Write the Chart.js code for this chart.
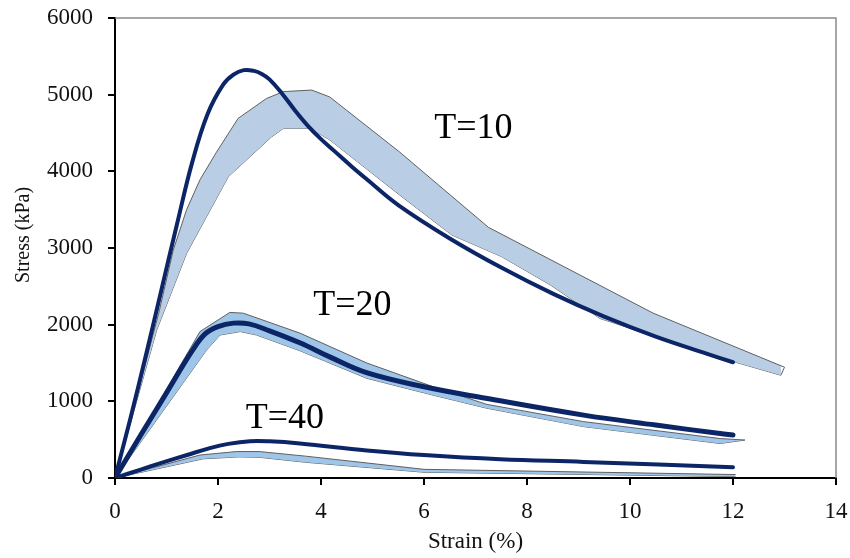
<!DOCTYPE html>
<html>
<head>
<meta charset="utf-8">
<script src="https://cdn.jsdelivr.net/npm/chart.js@4.4.1/dist/chart.umd.min.js"></script>
<style>
  html, body { margin: 0; padding: 0; background: #ffffff; }
  #wrap { width: 850px; height: 558px; }
</style>
</head>
<body>
<div id="wrap"><canvas id="c" width="850" height="558"></canvas></div>
<script>
// ---------- data ----------
// T=10 model curve
const strainT10Model = [0, 0.3, 0.6, 0.9, 1.2, 1.5, 1.8, 2.1, 2.3, 2.5, 2.7, 2.85, 3.0, 3.25, 3.5, 3.75, 4.0, 4.25, 4.6, 4.9, 5.5, 6.5, 7.5, 8.5, 9.5, 10.5, 11.5, 12];
const stressT10Model = [0, 780, 1600, 2450, 3300, 4120, 4750, 5130, 5260, 5320, 5310, 5270, 5200, 5010, 4790, 4590, 4420, 4270, 4060, 3890, 3560, 3125, 2745, 2405, 2105, 1845, 1620, 1510];
// T=10 experimental band
const strainT10Upper = [0, 0.85, 1.13, 1.39, 1.65, 1.97, 2.39, 2.94, 3.27, 3.82, 4.17, 5.53, 7.25, 10.45, 13.0];
const stressT10Upper = [0, 2150, 2970, 3500, 3890, 4250, 4690, 4950, 5040, 5060, 4970, 4250, 3270, 2150, 1445];
const strainT10Lower = [0, 0.81, 1.39, 2.2, 3.04, 3.27, 3.79, 4.17, 5.53, 6.54, 7.5, 8.45, 9.42, 12.0, 12.93];
const stressT10Lower = [0, 1930, 2930, 3930, 4450, 4560, 4560, 4410, 3690, 3170, 2890, 2520, 2080, 1520, 1340];
const strainT10Cap = [13.0, 12.93];
const stressT10Cap = [1445, 1340];

// T=20 model curve
const strainT20Model = [0, 0.5, 1.0, 1.5, 1.75, 2.0, 2.3, 2.6, 3.0, 3.6, 4.2, 4.9, 6.0, 7.2, 9.1, 10.5, 11.75, 12];
const stressT20Model = [0, 560, 1110, 1660, 1880, 1975, 2020, 2010, 1920, 1760, 1570, 1370, 1190, 1040, 820, 690, 580, 560];
// T=20 experimental band
const strainT20Upper = [0, 1.65, 2.23, 2.49, 3.59, 4.89, 6.18, 7.22, 9.1, 11.75, 12.23];
const stressT20Upper = [0, 1910, 2160, 2150, 1890, 1500, 1190, 960, 735, 515, 495];
const strainT20Lower = [0, 1.78, 2.04, 2.43, 2.75, 3.59, 4.89, 6.18, 7.22, 9.1, 11.75, 12.23];
const stressT20Lower = [0, 1670, 1865, 1910, 1865, 1660, 1300, 1080, 910, 670, 450, 495];

// T=40 model curve
const strainT40Model = [0, 0.5, 0.87, 1.4, 1.84, 2.2, 2.62, 3.0, 3.59, 4.89, 6.0, 7.48, 9.1, 12];
const stressT40Model = [0, 110, 190, 300, 390, 445, 480, 478, 450, 360, 300, 245, 210, 140];
// T=40 experimental band
const strainT40Upper = [0, 1.65, 2.36, 2.8, 3.7, 6.0, 12.05];
const stressT40Upper = [0, 300, 345, 345, 285, 113, 45];
const strainT40Lower = [0, 1.71, 2.4, 2.8, 3.7, 6.0, 12.05];
const stressT40Lower = [0, 250, 275, 270, 205, 75, 18];

// axis ticks
const xTicks = [0, 2, 4, 6, 8, 10, 12, 14];
const yTicks = [0, 1000, 2000, 3000, 4000, 5000, 6000];

// curve labels
const labelTexts = ['T=10', 'T=20', 'T=40'];
const labelStrain = [6.96, 4.61, 3.30];
const labelStress = [4435, 2126, 652];
const yTitleText = 'Stress (kPa)';

// ---------- helpers ----------
function pts(xs, ys) { return xs.map((x, i) => ({ x: x, y: ys[i] })); }

const NAVY = '#0b2566';
const OUTLINE = '#5f5f5f';
const FILL10 = '#b9cde5';
const FILL20 = '#9fc5e8';
const SERIF = "'Liberation Serif', 'Times New Roman', serif";

function modelLine(xs, ys, w) {
  return {
    type: 'line', data: pts(xs, ys), borderColor: NAVY, borderWidth: w,
    pointRadius: 0, tension: 0.4, fill: false, order: 0,
    borderCapStyle: 'round', borderJoinStyle: 'round'
  };
}
function bandEdge(xs, ys, fillColor, fillTarget) {
  return {
    type: 'line', data: pts(xs, ys), borderColor: OUTLINE, borderWidth: 1,
    pointRadius: 0, tension: 0, order: 1,
    backgroundColor: fillColor, fill: fillTarget
  };
}

const datasets = [
  modelLine(strainT10Model, stressT10Model, 4),
  modelLine(strainT20Model, stressT20Model, 5),
  modelLine(strainT40Model, stressT40Model, 4),
  bandEdge(strainT10Upper, stressT10Upper, FILL10, '+1'),
  bandEdge(strainT10Lower, stressT10Lower, FILL10, false),
  bandEdge(strainT20Upper, stressT20Upper, FILL20, '+1'),
  bandEdge(strainT20Lower, stressT20Lower, FILL20, false),
  bandEdge(strainT40Upper, stressT40Upper, FILL20, '+1'),
  bandEdge(strainT40Lower, stressT40Lower, FILL20, false),
  bandEdge(strainT10Cap, stressT10Cap, FILL10, false)
];

const framePlugin = {
  id: 'frame',
  afterDraw(chart) {
    const { ctx, chartArea: a } = chart;
    ctx.save();
    ctx.strokeStyle = '#8a8a8a';
    ctx.lineWidth = 1.5;
    ctx.beginPath();
    ctx.moveTo(a.left, a.top);
    ctx.lineTo(a.right, a.top);
    ctx.lineTo(a.right, a.bottom);
    ctx.stroke();
    // y axis title
    ctx.save();
    ctx.translate(24, 235);
    ctx.rotate(-Math.PI / 2);
    ctx.fillStyle = '#111';
    ctx.font = '20px ' + SERIF;
    ctx.textAlign = 'center';
    ctx.textBaseline = 'middle';
    ctx.fillText(yTitleText, 0, 0);
    ctx.restore();
    ctx.restore();
  }
};

const labelPlugin = {
  id: 'curveLabels',
  afterDatasetsDraw(chart) {
    const { ctx, scales } = chart;
    ctx.save();
    ctx.fillStyle = '#000';
    ctx.font = '36px ' + SERIF;
    ctx.textAlign = 'center';
    ctx.textBaseline = 'alphabetic';
    labelTexts.forEach((t, i) => {
      ctx.fillText(t, scales.x.getPixelForValue(labelStrain[i]), scales.y.getPixelForValue(labelStress[i]));
    });
    ctx.restore();
  }
};

new Chart(document.getElementById('c'), {
  type: 'line',
  data: { datasets: datasets },
  options: {
    responsive: false,
    animation: false,
    events: [],
    layout: { padding: { top: 18, right: 14, left: 0, bottom: 0 } },
    plugins: { legend: { display: false }, tooltip: { enabled: false } },
    scales: {
      x: {
        type: 'linear', min: 0, max: 14,
        afterFit(s) { s.height = 80; s.paddingLeft = 0; s.paddingRight = 0; },
        afterBuildTicks(s) { s.ticks = xTicks.map(v => ({ value: v })); },
        grid: { drawOnChartArea: false, drawTicks: true, tickLength: 7, color: '#000', lineWidth: 2 },
        border: { color: '#000', width: 2 },
        ticks: { color: '#111', padding: 13, maxRotation: 0, font: { family: SERIF, size: 23 }, callback: v => String(v) },
        title: { display: true, text: 'Strain (%)', color: '#111', padding: { top: 0, bottom: 2 }, font: { family: SERIF, size: 23 } }
      },
      y: {
        type: 'linear', min: 0, max: 6000,
        afterFit(s) { s.width = 115; s.paddingTop = 0; s.paddingBottom = 0; },
        afterBuildTicks(s) { s.ticks = yTicks.map(v => ({ value: v })); },
        grid: { drawOnChartArea: false, drawTicks: true, tickLength: 7, color: '#000', lineWidth: 2 },
        border: { color: '#000', width: 2 },
        ticks: { color: '#111', padding: 15, font: { family: SERIF, size: 23 }, callback: v => String(v) },
        title: { display: false }
      }
    }
  },
  plugins: [framePlugin, labelPlugin]
});
</script>
</body>
</html>
